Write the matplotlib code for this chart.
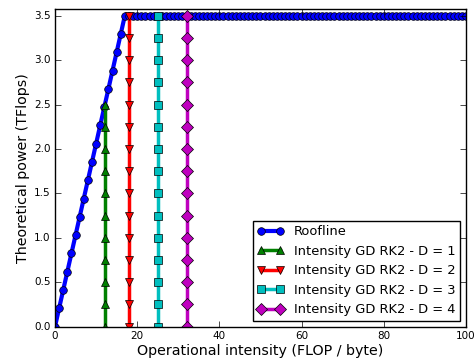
import matplotlib
matplotlib.use('Agg')
import matplotlib.pyplot as plt

plt.style.use('classic')
matplotlib.rcParams['font.family'] = 'DejaVu Sans'

# Roofline: integer intensities 0..100, peak 3.5 TFlops reached at 17
roofline_x = list(range(0, 101))
roofline_slope = [0.0, 0.206, 0.412, 0.618, 0.824, 1.029, 1.235, 1.441, 1.647,
                  1.853, 2.059, 2.265, 2.471, 2.676, 2.882, 3.088, 3.294, 3.5]
roofline_y = roofline_slope + [3.5] * (len(roofline_x) - len(roofline_slope))

# Operational intensity of each GD RK2 variant and the height it reaches
intensity_x = [12.14, 18.0, 25.0, 32.0]
intensity_top = [2.5, 3.5, 3.5, 3.5]
intensity_labels = ['Intensity GD RK2 - D = 1', 'Intensity GD RK2 - D = 2',
                    'Intensity GD RK2 - D = 3', 'Intensity GD RK2 - D = 4']
y_steps = [0.0, 0.25, 0.5, 0.75, 1.0, 1.25, 1.5, 1.75, 2.0, 2.25, 2.5,
           2.75, 3.0, 3.25, 3.5]

styles = [('g', '^'), ('r', 'v'), ('c', 's'), ('m', 'D')]

fig = plt.figure(figsize=(4.76, 3.63), dpi=100, facecolor='white')
ax = fig.add_axes([0.1155, 0.100, 0.8635, 0.874])

ax.plot(roofline_x, roofline_y, color='b', marker='o', linewidth=3,
        markersize=5.5, label='Roofline')

for xi, top, lab, (col, mk) in zip(intensity_x, intensity_top,
                                   intensity_labels, styles):
    ys = [v for v in y_steps if v <= top]
    ax.plot([xi] * len(ys), ys, color=col, marker=mk, linewidth=2.5,
            markersize=6, label=lab)

ax.set_xlim(0, 100)
ax.set_ylim(0, 3.57)
ax.set_xticks([0, 20, 40, 60, 80, 100])
ax.set_yticks([0.0, 0.5, 1.0, 1.5, 2.0, 2.5, 3.0, 3.5])
ax.tick_params(labelsize=7.5, pad=3)
ax.set_xlabel('Operational intensity (FLOP / byte)', fontsize=10.3, labelpad=2)
ax.set_ylabel('Theoretical power (TFlops)', fontsize=10.3, labelpad=3)

ax.legend(loc='lower right', fontsize=9.4, numpoints=2, borderaxespad=0.45,
          handlelength=2.0, labelspacing=0.5, borderpad=0.35,
          handletextpad=0.8)

fig.savefig('out.png', dpi=100, facecolor='white')
